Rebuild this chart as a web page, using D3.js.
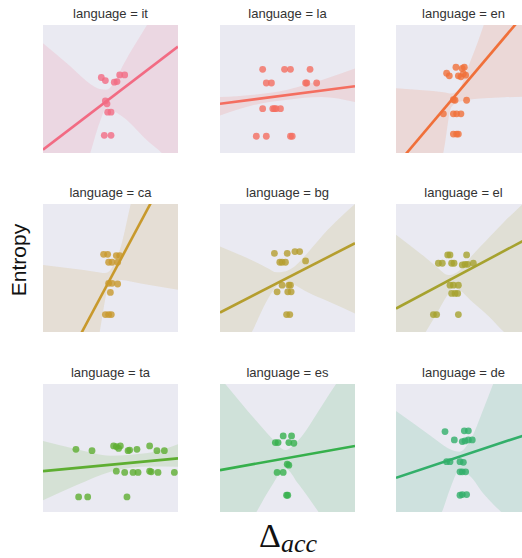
<!DOCTYPE html>
<html><head><meta charset="utf-8">
<script src="https://cdn.jsdelivr.net/npm/d3@7"></script>
<style>body{margin:0;background:#fff;} svg{display:block;}</style>
</head><body>
<script>
// Facet categories and palette
const languages = ["it","la","en","ca","bg","el","ta","es","de"];
const colors = ["#f26b83","#f46e60","#f0703a","#c8992c","#b59e2e","#a6a22e","#5eae31","#36b04c","#32af6a"];

// Scatter points per language: [Δacc, Entropy] (relative units, 0–100 within each facet)
const points_it = [[43.2,59],[46.2,56.6],[52.8,55.3],[54.8,55.8],[56.8,61],[60.5,61],[46.2,40.8],[47.4,38.4],[47.9,31.9],[50.4,31.9],[45.4,13.8],[50.4,13.8]];
const points_la = [[31.6,65.4],[47.8,65.4],[52.2,65.4],[66.7,65.4],[34.3,54.7],[38.1,54.7],[63.4,54.7],[64.3,54.7],[71.6,54.7],[31.6,34.6],[39.1,34.6],[40.3,34.6],[41.5,34.6],[44.8,34.6],[26.9,13.1],[34.3,13.1],[52.2,13.1],[53.5,13.1]];
const points_en = [[44.4,67],[50.6,67],[49,66],[37.5,62.3],[39.5,60.3],[46.2,60.3],[48.1,59.5],[49.9,62],[51.6,60.8],[42.5,41.6],[43.7,41.2],[52.3,41.2],[35.1,30.6],[42.5,30.6],[44.9,30.6],[48.1,30.6],[42.5,14.8],[44.9,14.8],[46.2,14.8]];
const points_ca = [[44.9,60.7],[47.9,60.7],[54.3,59.7],[56.8,59.7],[48.6,54.5],[51.1,54.5],[55.3,54.5],[48.6,38],[51.1,38],[55.3,37.5],[49.9,30.9],[46.2,13.6],[48.6,13.6],[50.6,13.6]];
const points_bg = [[40.3,61.5],[49.8,61.5],[55.5,62.8],[59,62.8],[44.3,54.5],[46,54.5],[48.5,54.5],[63.4,55.5],[46,36.6],[51,36.6],[52.2,36.6],[42.3,31.4],[50.2,31.4],[52.7,31.4],[49.3,13.6],[51.7,13.6]];
const points_el = [[38.3,60.2],[40,60.2],[52.3,60.2],[31.4,53.7],[34.3,53.7],[41.2,53.7],[43,53.7],[49.1,52.4],[51.1,52.9],[53.1,52.9],[57.3,53.7],[40,36.6],[42.5,36.6],[46.2,36.6],[41.2,30.1],[43.7,30.1],[45.7,30.1],[27.7,13.6],[30.1,13.6],[46.2,13.6]];
const points_ta = [[24.4,49],[36.3,47.9],[52.3,51.6],[54.3,51.1],[56,49.7],[57.3,51.6],[63,47.9],[64.2,48.4],[69.6,49],[79,51.6],[84.4,47.9],[89.9,47.9],[54.3,31.9],[60.5,30.9],[66.7,30.9],[70.4,30.9],[79,31.9],[80.2,31.4],[85.2,30.9],[97.3,30.9],[26.4,11.8],[33.1,11.8],[62.2,11.8]];
const points_es = [[46.8,59.4],[53,59.4],[41,54.2],[43,54.2],[51,54.2],[54.7,53.7],[49.8,37.4],[51,36.6],[42.3,30.9],[46.8,30.9],[49.3,13.1],[50.2,13.1]];
const points_de = [[36.3,62.8],[50.6,63.4],[53.6,63.4],[43.2,56.3],[49.1,55],[51.1,55.5],[53.6,56.3],[56.5,56.3],[37.5,39.3],[40,39.3],[47.4,39.3],[49.9,38.8],[47.4,31.4],[49.1,31.4],[51.6,31.4],[47.4,13.1],[49.1,13.6],[52.3,13.6]];
const pointSets = [points_it,points_la,points_en,points_ca,points_bg,points_el,points_ta,points_es,points_de];

// Fitted regression line: Entropy at Δacc = 0 and Δacc = 100
const lineEnds = [[2.6,83.1],[38.5,52.1],[-9.9,114.8],[-57,140.6],[15.2,69.4],[18.3,74.5],[31.9,41.9],[32.7,51.6],[26.7,61.7]];

// Confidence band: [Δacc, lower, upper]
const band_it = [[0,-80,85.7],[20,-40,68],[35,0,54],[42,24,50],[47,35,49.5],[52,33,54],[60,27.5,70],[77,10,100],[88,0,120],[100,-15,145]];
const band_la = [[0,29.3,43.7],[25,37.5,45.5],[50,41.6,49.5],[75,43.7,56.8],[100,39.8,66]];
const band_en = [[0,-60,50.6],[20,-30,49],[35,0,47.5],[41,36,46.5],[47,40,50],[53,41.5,66],[60,42.3,85],[65,42.7,100],[80,43.5,140],[100,44,180]];
const band_ca = [[0,-100,52.4],[30,-40,48.4],[42,0,46.5],[46,25,46],[48.6,36.6,47],[52,39,52],[58,40.6,68],[65,39.5,100],[80,36.5,150],[100,33,200]];
const band_bg = [[0,-40,66.8],[23.6,0,56],[35,25,50],[42,36,46.6],[47,39.8,47],[55,37,51],[65,31,62],[80,24,80],[100,14.4,100]];
const band_el = [[0,-40,75.9],[22,0,58],[30,14,51],[38.8,30,44.5],[42,34.5,45],[48,32,49],[55,25,58],[70,11,75],[80,0,86],[93.3,-10,99.5],[100,-15,107]];
const band_ta = [[0,9.2,55.5],[25,21,49],[50,31.5,44],[65,34.5,44.8],[80,35.5,46.5],[100,35.3,52.9]];
const band_es = [[0,-50,105],[27,0,71],[38,20,58],[48.5,34,48.4],[58,22,56],[73,0,79],[86,-20,100],[100,-40,120]];
const band_de = [[0,-60,79],[25,-15,60],[34,0,53],[40,18,49],[47,32.7,47],[55,28,56],[65,14,81],[72,6,100],[78,0,115],[100,-25,160]];
const bands = [band_it,band_la,band_en,band_ca,band_bg,band_el,band_ta,band_es,band_de];

const colX = [43,220,396], rowY = [25,204,384], W = 135, H = 128;

const svg = d3.select("body").append("svg").attr("width",522).attr("height",558);

languages.forEach((lang,i)=>{
  const x0 = colX[i%3], y0 = rowY[Math.floor(i/3)];
  const x = d3.scaleLinear().domain([0,100]).range([x0,x0+W]);
  const y = d3.scaleLinear().domain([0,100]).range([y0+H,y0]);
  const col = colors[i];
  const g = svg.append("g");
  const cid = "clip"+i;
  g.append("clipPath").attr("id",cid).append("rect").attr("x",x0).attr("y",y0).attr("width",W).attr("height",H);
  g.append("rect").attr("x",x0).attr("y",y0).attr("width",W).attr("height",H).attr("fill","#eaeaf2");
  const inner = g.append("g").attr("clip-path",`url(#${cid})`);
  inner.selectAll("circle").data(pointSets[i]).join("circle")
    .attr("cx",d=>x(d[0])).attr("cy",d=>y(d[1])).attr("r",3.4)
    .attr("fill",col).attr("fill-opacity",0.8);
  const area = d3.area().x(d=>x(d[0])).y0(d=>y(d[1])).y1(d=>y(d[2])).curve(d3.curveMonotoneX);
  inner.append("path").attr("d",area(bands[i])).attr("fill",col).attr("fill-opacity",0.15);
  const line = d3.line().x(d=>x(d[0])).y(d=>y(d[1]));
  inner.append("path").attr("d",line([[0,lineEnds[i][0]],[100,lineEnds[i][1]]]))
    .attr("stroke",col).attr("stroke-width",2.6).attr("fill","none");
  g.append("text").attr("x",x0+W/2).attr("y",y0-7).attr("text-anchor","middle")
    .attr("font-family","Liberation Sans, Arial, sans-serif").attr("font-size",13).attr("fill","#333")
    .text(`language = ${lang}`);
});

svg.append("text").attr("transform","translate(26,260) rotate(-90)").attr("text-anchor","middle")
  .attr("font-family","Liberation Sans, Arial, sans-serif").attr("font-size",21).attr("fill","#111").text("Entropy");

const xl = svg.append("text").attr("x",259).attr("y",547).attr("font-family","Liberation Serif, Times New Roman, serif").attr("fill","#111");
xl.append("tspan").attr("font-size",34).text("Δ");
xl.append("tspan").attr("font-size",26).attr("font-style","italic").attr("dy",5).text("acc");
</script>
</body></html>
